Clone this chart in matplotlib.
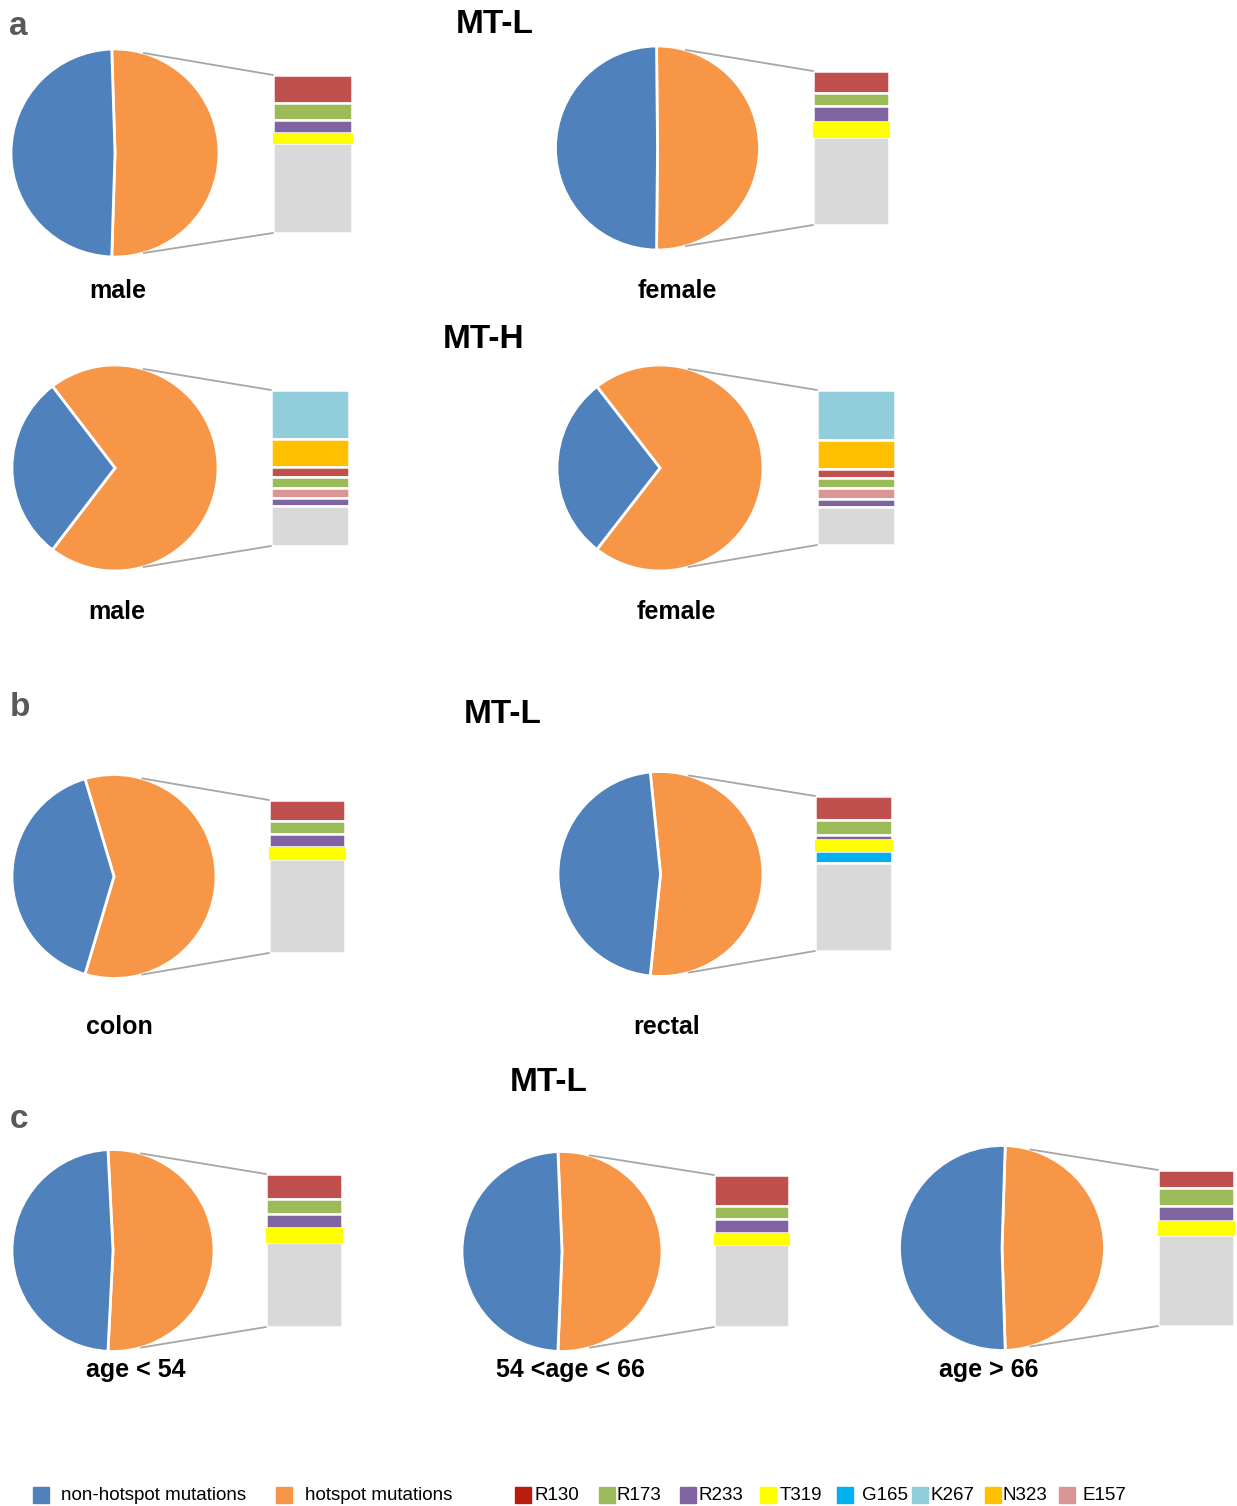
import numpy as np
import matplotlib
matplotlib.use('Agg')
import matplotlib.pyplot as plt
from matplotlib.patches import ConnectionPatch, Rectangle

W, H = 1237, 1506
plt.rcParams['font.family'] = ['Liberation Sans', 'DejaVu Sans']

# share of hotspot mutations (%) in each group, pie order
groups = ['male', 'female', 'male', 'female', 'colon', 'rectal',
          'age < 54', '54 <age < 66', 'age > 66']
hotspot_pct = [51.0, 50.3, 70.8, 71.0, 59.2, 53.2, 51.6, 51.3, 49.0]

# breakdown of the hotspot slice, top of bar to bottom
sites_L = ['R130', 'R173', 'R233', 'T319', 'other']
sites_H = ['K267', 'N323', 'R130', 'R173', 'E157', 'R233', 'other']
sites_rectal = ['R130', 'R173', 'R233', 'T319', 'G165', 'other']

male_L = [17.6, 10.9, 8.3, 6.5, 56.6]
female_L = [14.1, 8.6, 10.2, 10.0, 57.0]
male_H = [31.1, 18.4, 6.5, 6.6, 6.6, 5.3, 25.5]
female_H = [32.0, 18.6, 5.9, 6.9, 6.9, 4.8, 24.8]
colon_L = [13.5, 8.8, 8.3, 8.0, 61.4]
rectal_L = [15.8, 9.4, 3.4, 6.8, 8.0, 56.6]
age_lt54_L = [16.2, 9.9, 9.4, 8.7, 55.8]
age_54_66_L = [20.1, 9.1, 8.7, 7.8, 54.3]
age_gt66_L = [11.4, 11.5, 9.6, 9.3, 58.2]

bar_sites = [sites_L, sites_L, sites_H, sites_H, sites_L, sites_rectal,
             sites_L, sites_L, sites_L]
bar_vals = [male_L, female_L, male_H, female_H, colon_L, rectal_L,
            age_lt54_L, age_54_66_L, age_gt66_L]

blue = '#4F81BD'
orange = '#F79646'
site_colors = {'R130': '#C0504D', 'R173': '#9BBB59', 'R233': '#8064A2',
               'T319': '#FFFF00', 'G165': '#00B0F0', 'K267': '#92CDDC',
               'N323': '#FFC000', 'E157': '#D99694', 'other': '#D9D9D9'}

# pixel layout: pie centre + radius, bar box, label anchor
pie_geom = [(115, 153, 104), (657.5, 148, 102), (115, 468, 103), (660, 468, 103),
            (114, 876.5, 102), (660.5, 874, 102.5),
            (113, 1250.5, 101), (562, 1251.5, 100), (1002, 1248, 102.5)]
bar_box = [(273, 352, 75, 233), (813, 889, 71, 225), (271, 349, 390, 546),
           (817, 895, 390, 545), (269, 345, 800, 953), (815, 892, 796, 951),
           (266, 342, 1174, 1327), (714, 789, 1175, 1327), (1158, 1234, 1170, 1326)]
label_pos = [(117.5, 298), (677, 298), (117, 619), (676, 619), (119, 1034),
             (667, 1034), (136, 1377), (570, 1377), (989, 1377)]

fig = plt.figure(figsize=(W / 100, H / 100), dpi=100)


def px_axes(x0, x1, y0, y1):
    return fig.add_axes([x0 / W, 1 - y1 / H, (x1 - x0) / W, (y1 - y0) / H])


def px_text(x, y, s, **kw):
    fig.text(x / W, 1 - y / H, s, **kw)


for i in range(len(groups)):
    cx, cy, r = pie_geom[i]
    s = r * 1.25
    pax = px_axes(cx - s, cx + s, cy - s, cy + s)
    pct = hotspot_pct[i]
    # hotspot slice centred on the right, facing its bar
    pax.pie([pct, 100 - pct], colors=[orange, blue], startangle=-pct * 1.8,
            wedgeprops=dict(edgecolor='white', linewidth=2))
    pax.set_xlim(-1.25, 1.25)
    pax.set_ylim(-1.25, 1.25)

    x0, x1, y0, y1 = bar_box[i]
    bax = px_axes(x0, x1, y0, y1)
    bottom = 0
    for site, v in zip(bar_sites[i], bar_vals[i]):
        c = site_colors[site]
        if site == 'T319':
            bax.bar(0, v, bottom=bottom, width=1, color=c, edgecolor=c,
                    linewidth=0.8, clip_on=False, zorder=3)
        else:
            bax.bar(0, v, bottom=bottom, width=1, color=c, edgecolor='white',
                    linewidth=1.8, clip_on=False, zorder=2)
        bottom += v
    bax.set_xlim(-0.5, 0.5)
    bax.set_ylim(bottom, 0)
    bax.axis('off')

    for ang, yb in [(74, 0), (-74, bottom)]:
        a = np.radians(ang)
        con = ConnectionPatch(xyA=(np.cos(a), np.sin(a)), coordsA=pax.transData,
                              xyB=(-0.5, yb), coordsB=bax.transData,
                              color='#A6A6A6', lw=1.3)
        fig.add_artist(con)

    lx, ly = label_pos[i]
    px_text(lx, ly, groups[i], ha='center', va='baseline', fontsize=18,
            fontweight='bold')

# panel letters and gene titles
for letter, x, y in [('a', 18, 35), ('b', 20, 716), ('c', 19, 1128)]:
    px_text(x, y, letter, ha='center', va='baseline', fontsize=24,
            fontweight='bold', color='#595959')
for title, x, y in [('MT-L', 495, 33), ('MT-H', 484, 348), ('MT-L', 503, 723),
                    ('MT-L', 549, 1091)]:
    px_text(x, y, title, ha='center', va='baseline', fontsize=24,
            fontweight='bold')

# legend row along the bottom
leg = fig.add_axes([0, 0, 1, 40 / H])
leg.set_xlim(0, W)
leg.set_ylim(H, H - 40)
leg.axis('off')
legend_items = [('non-hotspot mutations', blue, 33, 61),
                ('hotspot mutations', orange, 276, 305),
                ('R130', '#B71C0C', 515, 535),
                ('R173', site_colors['R173'], 599, 617),
                ('R233', site_colors['R233'], 680, 698),
                ('T319', site_colors['T319'], 760, 780),
                ('G165', site_colors['G165'], 837, 862),
                ('K267', site_colors['K267'], 912, 931),
                ('N323', site_colors['N323'], 985, 1002),
                ('E157', site_colors['E157'], 1059, 1082)]
for name, c, sx, tx in legend_items:
    leg.add_patch(Rectangle((sx, 1487), 16, 16, color=c))
    leg.text(tx, 1500, name, ha='left', va='baseline', fontsize=13.5)

fig.savefig('out.png', dpi=100)
